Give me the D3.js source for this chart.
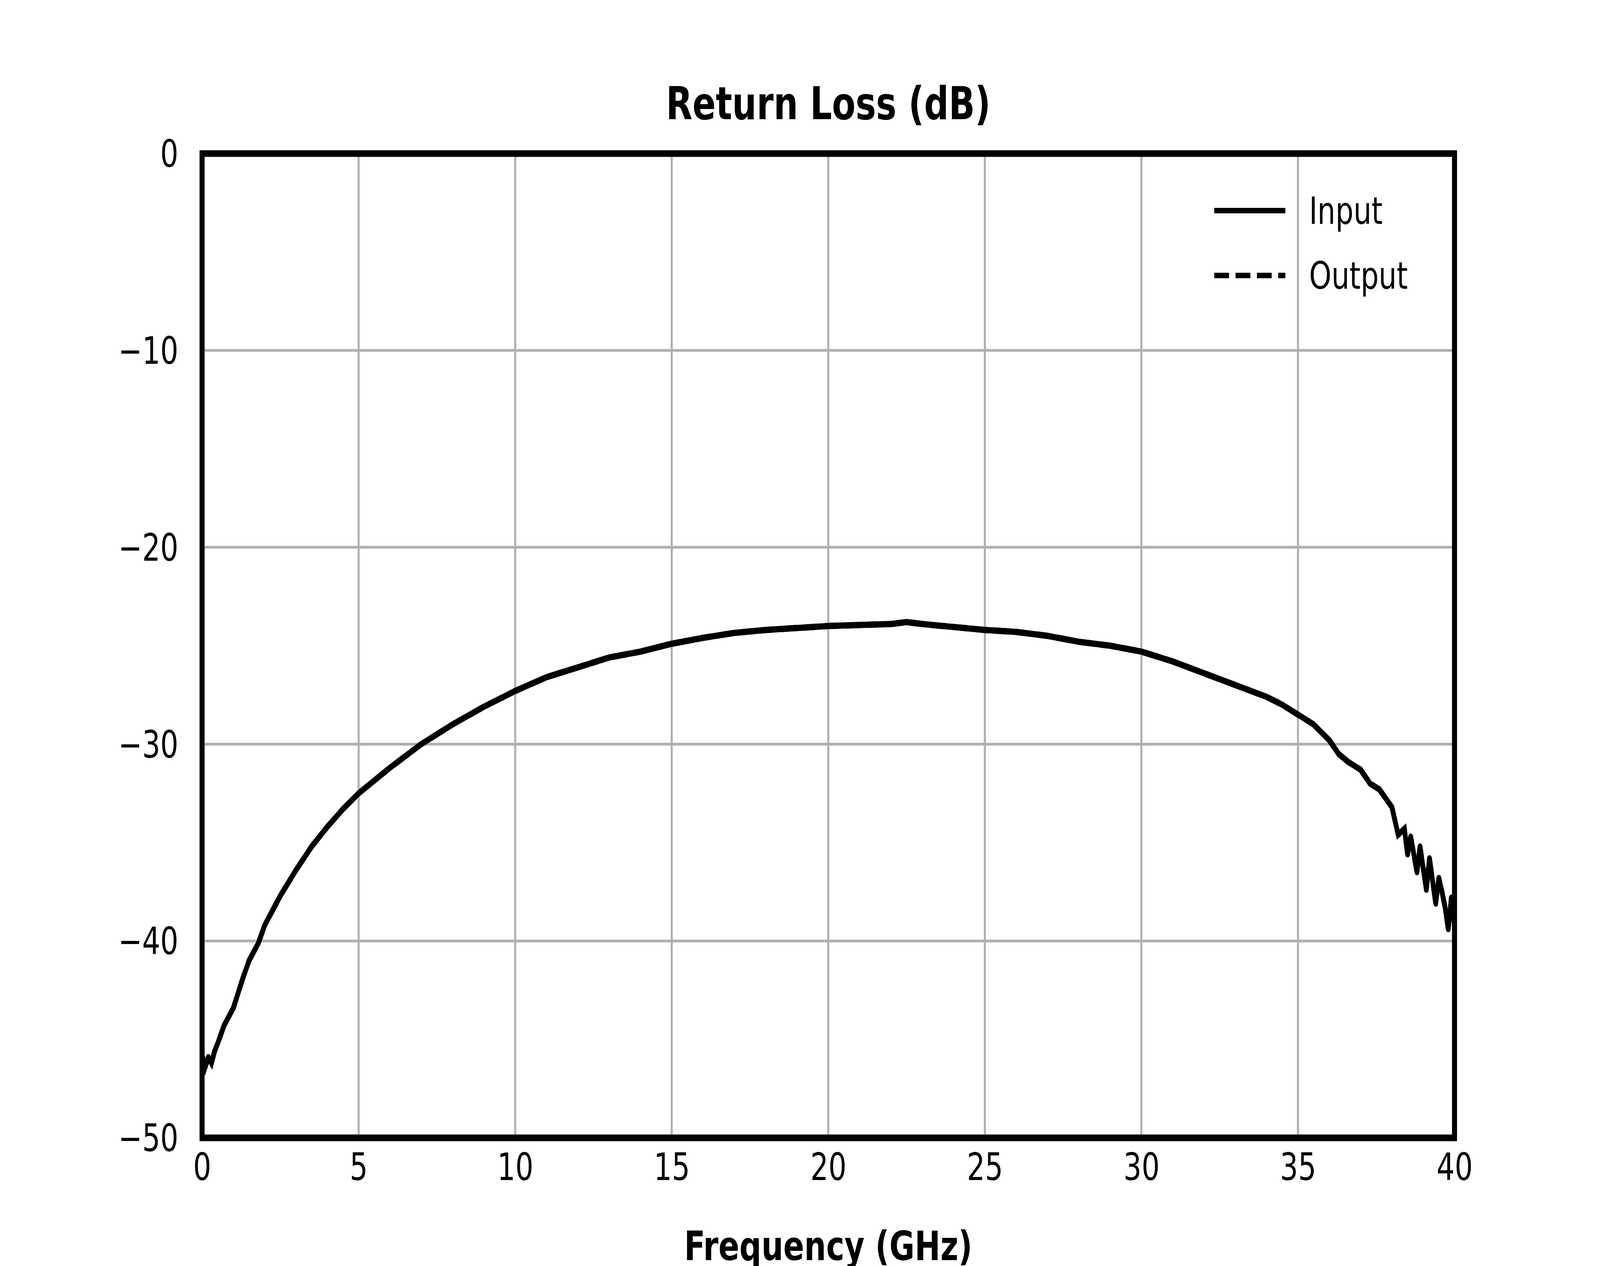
<!DOCTYPE html>
<html><head><meta charset="utf-8">
<script src="https://cdn.jsdelivr.net/npm/d3@7"></script>
<style>html,body{margin:0;padding:0;background:#fff;overflow:hidden;width:100%;height:100%}svg{font-family:"DejaVu Sans",sans-serif;display:block}</style>
</head><body>
<script>
const freq = [0,0.1,0.2,0.3,0.4,0.5,0.7,1,1.3,1.5,1.8,2,2.5,3,3.5,4,4.5,5,6,7,8,9,10,11,12,13,14,15,16,17,18,19,20,21,22,22.5,23,24,25,26,27,28,29,30,31,32,33,33.5,34,34.5,35,35.5,36,36.3,36.6,37,37.3,37.6,38,38.2,38.4,38.5,38.6,38.8,38.9,39.1,39.2,39.4,39.5,39.6,39.7,39.8,39.9,40];
const inputDb = [-45.8,-46.4,-45.9,-46.2,-45.6,-45.2,-44.3,-43.4,-41.9,-41.0,-40.1,-39.2,-37.7,-36.4,-35.2,-34.2,-33.3,-32.5,-31.2,-30.0,-29.0,-28.1,-27.3,-26.6,-26.1,-25.6,-25.3,-24.9,-24.6,-24.35,-24.2,-24.1,-24.0,-23.95,-23.9,-23.8,-23.9,-24.05,-24.2,-24.3,-24.5,-24.8,-25.0,-25.3,-25.8,-26.4,-27.0,-27.3,-27.6,-28.0,-28.5,-29.0,-29.8,-30.5,-30.9,-31.3,-32.0,-32.3,-33.2,-34.6,-34.3,-35.6,-34.7,-36.5,-35.2,-37.4,-35.8,-38.1,-36.8,-37.5,-38.3,-39.4,-37.8,-39.2];
const outputDb = inputDb.slice();
const xTicks = [0,5,10,15,20,25,30,35,40];
const yTicks = [0,-10,-20,-30,-40,-50];
const legendLabels = ["Input","Output"];

const W=5400,H=3240, L=682,R=4909,T=393,B=2912;
const svg=d3.select("body").append("svg").attr("width","100%").attr("height","100%")
  .attr("viewBox",`0 0 ${W} ${H}`).attr("preserveAspectRatio","none");
const x=d3.scaleLinear().domain([0,40]).range([L,R]);
const y=d3.scaleLinear().domain([-50,0]).range([B,T]);

const grid=svg.append("g").attr("stroke","#b0b0b0").attr("stroke-width",7);
xTicks.forEach(t=>grid.append("line").attr("x1",x(t)).attr("x2",x(t)).attr("y1",T).attr("y2",B));
yTicks.forEach(t=>grid.append("line").attr("y1",y(t)).attr("y2",y(t)).attr("x1",L).attr("x2",R));

const line=d3.line().x((d,i)=>x(freq[i])).y(d=>y(d));
svg.append("path").datum(outputDb).attr("d",line).attr("fill","none").attr("stroke","#000").attr("stroke-width",16).attr("stroke-dasharray","50,22");
svg.append("path").datum(inputDb).attr("d",line).attr("fill","none").attr("stroke","#000").attr("stroke-width",16).attr("stroke-linejoin","round").attr("stroke-linecap","round");

svg.append("rect").attr("x",L).attr("y",T).attr("width",R-L).attr("height",B-T).attr("fill","none").attr("stroke","#000").attr("stroke-width",17);

const xa=svg.append("g").attr("transform",`translate(0,${B})`).call(d3.axisBottom(x).tickValues(xTicks).tickSize(0).tickPadding(40).tickFormat(d3.format("d")));
const ya=svg.append("g").attr("transform",`translate(${L},0)`).call(d3.axisLeft(y).tickValues(yTicks).tickSize(0).tickPadding(80).tickFormat(d=>d<0?"\u2212"+Math.abs(d):d));
[xa,ya].forEach(a=>{a.select(".domain").remove();a.selectAll("text").attr("font-size",96).attr("font-family","DejaVu Sans").attr("fill","#000");});
ya.selectAll("text").attr("dy","0.35em");

svg.append("text").attr("x",(L+R)/2).attr("y",305).attr("text-anchor","middle").attr("font-weight","bold").attr("font-size",116).text("Return Loss (dB)");
svg.append("text").attr("x",(L+R)/2).attr("y",3225).attr("text-anchor","middle").attr("font-weight","bold").attr("font-size",104).text("Frequency (GHz)");

legendLabels.forEach((lab,i)=>{
  const ly=539+i*166;
  svg.append("line").attr("x1",4098).attr("x2",4338).attr("y1",ly).attr("y2",ly).attr("stroke","#000").attr("stroke-width",14).attr("stroke-dasharray",i?"50,22":null);
  svg.append("text").attr("x",4418).attr("y",ly).attr("dy","0.35em").attr("font-size",96).text(lab);
});
</script>
</body></html>
